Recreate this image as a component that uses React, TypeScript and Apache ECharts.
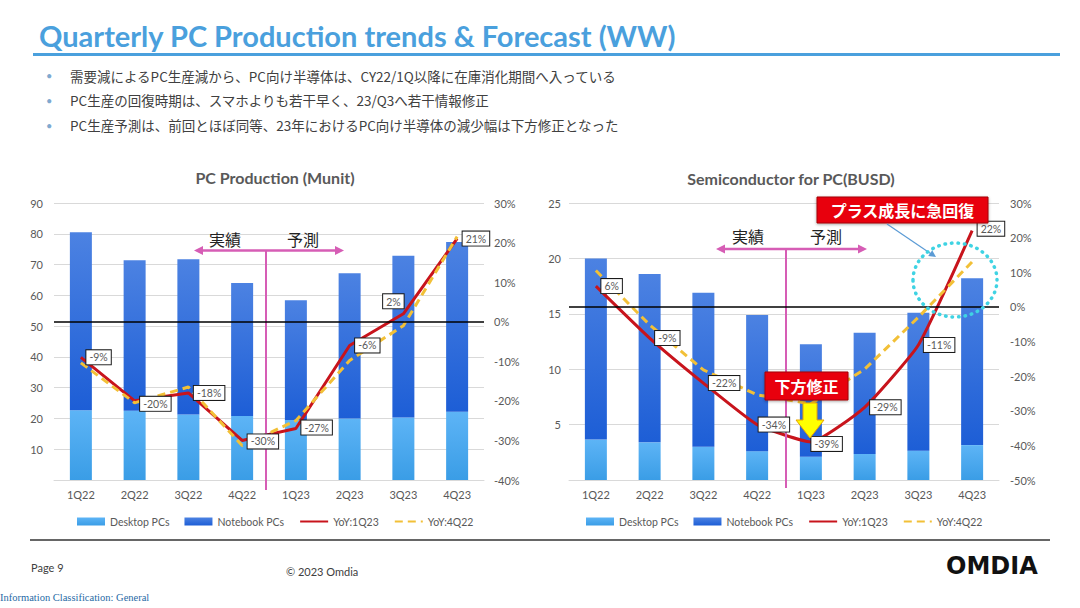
import React, { useEffect, useRef } from "react";
import * as echarts from "echarts";

// ---------- data ----------
const quarters = ["1Q22", "2Q22", "3Q22", "4Q22", "1Q23", "2Q23", "3Q23", "4Q23"];

const pcDesktop = [22.7, 22.5, 21.3, 20.8, 19.5, 20.0, 20.3, 22.2];
const pcNotebook = [57.8, 48.9, 50.4, 43.2, 38.9, 47.2, 52.6, 55.1];
const pcYoY1Q23 = [-9, -20, -18, -30, -27, -6, 2, 21];
const pcYoY4Q22 = [-10.4, -20.5, -16.5, -31.3, -25, -9.8, -1, 21.5];

const semiDesktop = [3.65, 3.4, 3.0, 2.6, 2.1, 2.35, 2.65, 3.15];
const semiNotebook = [16.35, 15.2, 13.9, 12.3, 10.15, 10.95, 12.45, 15.05];
const semiYoY1Q23 = [6, -9, -22, -34, -39, -29, -11, 22];
const semiYoY4Q22 = [10.5, -5.2, -18.2, -25.4, -28, -18, -3, 13];

const pcUnitAxis = { min: 0, max: 90, interval: 10 };
const pcPctAxis = { min: -40, max: 30, interval: 10 };
const semiUnitAxis = { min: 0, max: 25, interval: 5 };
const semiPctAxis = { min: -50, max: 30, interval: 10 };

const barNames = ["Desktop PCs", "Notebook PCs"];
const lineNames = ["YoY:1Q23", "YoY:4Q22"];

const pcLabelPos = ["right", "right", "right", "right", "right", "right", "top", "right"];
const pcLabelOffset = [[0, 0], [0, 3], [0, 0], [0, 1], [0, -1], [0, 0], [-10, 0], [0, 0]];
const semiLabelPos = ["right", "right", "right", "right", "right", "right", "right", "right"];
const semiLabelOffset = [[0, 0], [0, 0], [0, 0], [-4, 0], [-5, 2], [0, 0], [0, 0], [0, -2]];

const bullets = [
  "需要減によるPC生産減から、PC向け半導体は、CY22/1Q以降に在庫消化期間へ入っている",
  "PC生産の回復時期は、スマホよりも若干早く、23/Q3へ若干情報修正",
  "PC生産予測は、前回とほぼ同等、23年におけるPC向け半導体の減少幅は下方修正となった",
];

// ---------- styles ----------
const RED = "#c8141c";
const YEL = "#f2c037";
const PINK = "#d65db5";
const GRAY = "#595959";
const BLUE_TITLE = "#4aa0dd";
const LATIN = "Lato, 'Open Sans', sans-serif";
const CJK = "'Noto Sans CJK JP', sans-serif";

const gradDesk = () =>
  new echarts.graphic.LinearGradient(0, 0, 0, 1, [
    { offset: 0, color: "#5db4f6" },
    { offset: 1, color: "#3a9de6" },
  ]);
const gradNote = () =>
  new echarts.graphic.LinearGradient(0, 0, 0, 1, [
    { offset: 0, color: "#4c82e2" },
    { offset: 1, color: "#1d5ed6" },
  ]);

function chartSeries(
  gi: number,
  desktop: number[],
  notebook: number[],
  yoyA: number[],
  yoyB: number[],
  labelPos: string[],
  labelOffset: number[][],
  smoothA: number | boolean
) {
  const yl = gi * 2;
  const yr = gi * 2 + 1;
  return [
    {
      name: barNames[0],
      type: "bar",
      stack: "s" + gi,
      xAxisIndex: gi,
      yAxisIndex: yl,
      data: desktop,
      barWidth: 22,
      itemStyle: { color: gradDesk() },
      z: 2,
    },
    {
      name: barNames[1],
      type: "bar",
      stack: "s" + gi,
      xAxisIndex: gi,
      yAxisIndex: yl,
      data: notebook,
      barWidth: 22,
      itemStyle: { color: gradNote() },
      z: 2,
    },
    {
      name: lineNames[0],
      type: "line",
      xAxisIndex: gi,
      yAxisIndex: yr,
      data: yoyA,
      symbol: "none",
      smooth: smoothA,
      lineStyle: { color: RED, width: 3 },
      itemStyle: { color: RED },
      z: 3,
      markLine: {
        silent: true,
        symbol: "none",
        label: { show: false },
        lineStyle: { color: "#000", width: 1.5, type: "solid" },
        data: [{ yAxis: 0 }],
      },
    },
    {
      name: lineNames[1],
      type: "line",
      xAxisIndex: gi,
      yAxisIndex: yr,
      data: yoyB,
      symbol: "none",
      lineStyle: { color: YEL, width: 3, type: [8, 5] },
      itemStyle: { color: YEL },
      z: 4,
    },
    {
      name: "labels" + gi,
      type: "line",
      xAxisIndex: gi,
      yAxisIndex: yr,
      smooth: smoothA,
      silent: true,
      symbol: "circle",
      symbolSize: 1,
      itemStyle: { color: "rgba(0,0,0,0)" },
      lineStyle: { opacity: 0 },
      z: 6,
      data: yoyA.map((v, i) => ({
        value: v,
        label: { position: labelPos[i], offset: labelOffset[i] },
      })),
      label: {
        show: true,
        formatter: "{c}%",
        distance: 5,
        backgroundColor: "#fff",
        borderColor: "#1a1a1a",
        borderWidth: 1,
        padding: [2, 3, 1, 3],
        color: GRAY,
        fontSize: 10.5,
        fontFamily: LATIN,
        opacity: 1,
      },
    },
  ];
}

function txt(x: number, y: number, text: string, font: string, fill: string, align = "left") {
  return {
    type: "text",
    x,
    y,
    silent: true,
    z: 100,
    style: { text, font, fill, textAlign: align, textVerticalAlign: "middle" },
  };
}

function pinkArrow(x1: number, x2: number, y: number, vx: number, yBottom: number) {
  return [
    { type: "line", silent: true, z: 100, shape: { x1: x1 + 4, y1: y, x2: x2 - 4, y2: y }, style: { stroke: PINK, lineWidth: 2.5 } },
    { type: "polygon", silent: true, z: 100, shape: { points: [[x1, y], [x1 + 9, y - 4.5], [x1 + 9, y + 4.5]] }, style: { fill: PINK } },
    { type: "polygon", silent: true, z: 100, shape: { points: [[x2, y], [x2 - 9, y - 4.5], [x2 - 9, y + 4.5]] }, style: { fill: PINK } },
    { type: "line", silent: true, z: 5, shape: { x1: vx, y1: y, x2: vx, y2: yBottom }, style: { stroke: PINK, lineWidth: 2 } },
  ];
}

function xAxis(gi: number) {
  return {
    type: "category",
    gridIndex: gi,
    data: quarters,
    axisLine: { lineStyle: { color: "#d9d9d9", width: 1 } },
    axisTick: { show: false },
    axisLabel: { color: GRAY, fontSize: 11, fontFamily: LATIN, margin: 9 },
  };
}

function yLeft(gi: number, r: { min: number; max: number; interval: number }, margin: number) {
  return {
    type: "value",
    gridIndex: gi,
    position: "left",
    ...r,
    axisLine: { show: false },
    axisTick: { show: false },
    axisLabel: { showMinLabel: false, color: GRAY, fontSize: 11, fontFamily: LATIN, margin },
    splitLine: { lineStyle: { color: "#d9d9d9", width: 1 } },
  };
}

function yRight(gi: number, r: { min: number; max: number; interval: number }, margin: number) {
  return {
    type: "value",
    gridIndex: gi,
    position: "right",
    ...r,
    axisLine: { show: false },
    axisTick: { show: false },
    axisLabel: { formatter: "{value}%", color: GRAY, fontSize: 11, fontFamily: LATIN, margin },
    splitLine: { show: false },
  };
}

function legend(left: number) {
  return {
    data: [
      ...barNames.map((n) => ({ name: n, icon: "rect" })),
      ...lineNames.map((n) => ({ name: n, itemStyle: { opacity: 0 } })),
    ],
    left,
    top: 511,
    itemWidth: 28,
    itemHeight: 8,
    itemGap: 15,
    selectedMode: false,
    textStyle: { color: GRAY, fontSize: 10.5, fontFamily: LATIN },
  };
}

export default function App() {
  const ref = useRef<HTMLDivElement>(null);

  useEffect(() => {
    if (!ref.current) return;
    const chart = echarts.init(ref.current, undefined, { renderer: "svg" });

    const redBox = (x: number, y: number, w: number, h: number) => ({
      type: "rect",
      silent: true,
      z: 100,
      shape: { x, y, width: w, height: h },
      style: { fill: "#e8000f", stroke: "#a40000", lineWidth: 1, shadowBlur: 3, shadowColor: "rgba(0,0,0,0.35)", shadowOffsetY: 1 },
    });

    const graphic: any[] = [
      // title
      txt(39, 35, "Quarterly PC Production trends & Forecast (WW)", `bold 29px ${LATIN}`, BLUE_TITLE),
      { type: "line", silent: true, z: 100, shape: { x1: 33, y1: 54.5, x2: 1060, y2: 54.5 }, style: { stroke: BLUE_TITLE, lineWidth: 3 } },
      // chart titles
      txt(275, 177, "PC Production (Munit)", `bold 16px ${LATIN}`, GRAY, "center"),
      txt(791, 178, "Semiconductor for PC(BUSD)", `bold 16px ${LATIN}`, GRAY, "center"),
      // 実績 / 予測
      txt(225, 239, "実績", `16px ${CJK}`, "#222", "center"),
      txt(303, 239, "予測", `16px ${CJK}`, "#222", "center"),
      txt(748, 236, "実績", `16px ${CJK}`, "#222", "center"),
      txt(826, 236, "予測", `16px ${CJK}`, "#222", "center"),
      ...pinkArrow(194, 344, 250.5, 266, 490),
      ...pinkArrow(716, 867, 249, 786, 488),
      // right chart annotations
      redBox(817, 197, 171, 26),
      txt(902.5, 210, "プラス成長に急回復", `bold 16px ${CJK}`, "#fff", "center"),
      { type: "line", silent: true, z: 100, shape: { x1: 887, y1: 224, x2: 932, y2: 254.5 }, style: { stroke: "#5b9bd5", lineWidth: 1.2 } },
      { type: "polygon", silent: true, z: 100, shape: { points: [[936, 257], [928.2, 256], [932.2, 250.2]] }, style: { fill: "#5b9bd5" } },
      {
        type: "ellipse",
        silent: true,
        z: 100,
        shape: { cx: 955, cy: 280, rx: 42, ry: 37 },
        style: { fill: "none", stroke: "#3fd3e3", lineWidth: 3.5, lineDash: [0.5, 6], lineCap: "round" },
      },
      redBox(765, 372, 83, 28),
      txt(806.5, 386, "下方修正", `bold 16px ${CJK}`, "#fff", "center"),
      {
        type: "polygon",
        silent: true,
        z: 100,
        shape: { points: [[803, 403], [817, 403], [817, 420], [824, 420], [810, 438], [796, 420], [803, 420]] },
        style: { fill: "#ffff00", stroke: "#e9a400", lineWidth: 1 },
      },
      // footer
      { type: "line", silent: true, z: 100, shape: { x1: 30, y1: 540, x2: 1050, y2: 540 }, style: { stroke: "#333", lineWidth: 1.5 } },
      txt(31, 567, "Page 9", `11px ${LATIN}`, "#404040"),
      txt(286, 571, "© 2023 Omdia", `11px ${LATIN}`, "#404040"),
      txt(946, 566, "OMDIA", `bold 24px 'DejaVu Sans', sans-serif`, "#111"),
      txt(0, 597, "Information Classification: General", `10.5px 'Liberation Serif', serif`, "#1f6aa5"),
    ];
    bullets.forEach((b, i) => {
      const y = 75.5 + i * 24.75;
      graphic.push(txt(46, y, "•", `11px ${LATIN}`, "#7fa9cf"));
      graphic.push(txt(70, y, b, `13.5px ${CJK}`, "#404040"));
    });

    chart.setOption({
      animation: false,
      backgroundColor: "#fff",
      grid: [
        { left: 54, top: 203, width: 430, height: 277 },
        { left: 569, top: 203, width: 430, height: 277 },
      ],
      xAxis: [xAxis(0), xAxis(1)],
      yAxis: [yLeft(0, pcUnitAxis, 11), yRight(0, pcPctAxis, 10), yLeft(1, semiUnitAxis, 8), yRight(1, semiPctAxis, 11)],
      legend: [legend(72), legend(581)],
      series: [
        ...chartSeries(0, pcDesktop, pcNotebook, pcYoY1Q23, pcYoY4Q22, pcLabelPos, pcLabelOffset, false),
        ...chartSeries(1, semiDesktop, semiNotebook, semiYoY1Q23, semiYoY4Q22, semiLabelPos, semiLabelOffset, 0.15),
      ],
      graphic,
    });

    return () => chart.dispose();
  }, []);

  return (
    <div
      ref={ref}
      style={{ position: "fixed", left: 0, top: 0, width: 1080, height: 608, background: "#fff" }}
    />
  );
}
